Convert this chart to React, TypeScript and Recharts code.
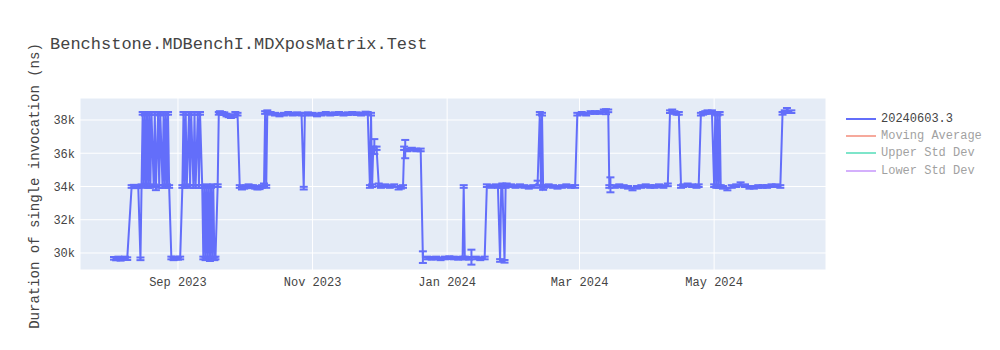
import { LineChart, Line, XAxis, YAxis, CartesianGrid, ErrorBar } from "recharts";

const chartTitle = "Benchstone.MDBenchI.MDXposMatrix.Test";
const yAxisTitle = "Duration of single invocation (ns)";
const seriesName = "20240603.3";

// run timestamps (UTC, "THH" = hour of the run)
const runDates = [
    "2023-08-03", "2023-08-04", "2023-08-05", "2023-08-06", "2023-08-07", "2023-08-08", "2023-08-09", "2023-08-11", "2023-08-12", "2023-08-13", "2023-08-14", "2023-08-15", "2023-08-15T12",
    "2023-08-16", "2023-08-16T12", "2023-08-17", "2023-08-17T12", "2023-08-18", "2023-08-18T12", "2023-08-19", "2023-08-19T12", "2023-08-20", "2023-08-21", "2023-08-21T12", "2023-08-22", "2023-08-23", "2023-08-23T12", "2023-08-24", "2023-08-25", "2023-08-25T12", "2023-08-26", "2023-08-26T12", "2023-08-27", "2023-08-27T12", "2023-08-28",
    "2023-08-29", "2023-08-30", "2023-08-31", "2023-09-01", "2023-09-02",
    "2023-09-03", "2023-09-03T12", "2023-09-04", "2023-09-04T12", "2023-09-05", "2023-09-06", "2023-09-06T12", "2023-09-07", "2023-09-08", "2023-09-08T12", "2023-09-09", "2023-09-10", "2023-09-10T12", "2023-09-11", "2023-09-12",
    "2023-09-12T12", "2023-09-13", "2023-09-13T12", "2023-09-14", "2023-09-14T12", "2023-09-15", "2023-09-15T12", "2023-09-16", "2023-09-16T12", "2023-09-17", "2023-09-17T12", "2023-09-18", "2023-09-19",
    "2023-09-19T12", "2023-09-20", "2023-09-21", "2023-09-22", "2023-09-23", "2023-09-24", "2023-09-25", "2023-09-26", "2023-09-27", "2023-09-28",
    "2023-09-29", "2023-09-30", "2023-10-01", "2023-10-02", "2023-10-03", "2023-10-04", "2023-10-05", "2023-10-06", "2023-10-07", "2023-10-08", "2023-10-09", "2023-10-10", "2023-10-10T12", "2023-10-11", "2023-10-11T12",
    "2023-10-13", "2023-10-15", "2023-10-17", "2023-10-19", "2023-10-21", "2023-10-23", "2023-10-25", "2023-10-27", "2023-10-28", "2023-10-28T12", "2023-10-30", "2023-11-01", "2023-11-03", "2023-11-05", "2023-11-07", "2023-11-09", "2023-11-11", "2023-11-13", "2023-11-15", "2023-11-17", "2023-11-19", "2023-11-21", "2023-11-23", "2023-11-25", "2023-11-26",
    "2023-11-27", "2023-11-27T12", "2023-11-28", "2023-11-28T12", "2023-11-29", "2023-11-30", "2023-12-01", "2023-12-02", "2023-12-04", "2023-12-06", "2023-12-08", "2023-12-10", "2023-12-11", "2023-12-12",
    "2023-12-12T12", "2023-12-13", "2023-12-14", "2023-12-16", "2023-12-18", "2023-12-20",
    "2023-12-21", "2023-12-23", "2023-12-25", "2023-12-27", "2023-12-29", "2023-12-31", "2024-01-02", "2024-01-04", "2024-01-06", "2024-01-08", "2024-01-08T12", "2024-01-09", "2024-01-11", "2024-01-12", "2024-01-14", "2024-01-16", "2024-01-18",
    "2024-01-19", "2024-01-21", "2024-01-23", "2024-01-24", "2024-01-25", "2024-01-25T12", "2024-01-26", "2024-01-27", "2024-01-27T12", "2024-01-28", "2024-01-30", "2024-02-01", "2024-02-03", "2024-02-05", "2024-02-07", "2024-02-09", "2024-02-11",
    "2024-02-12", "2024-02-12T12", "2024-02-13", "2024-02-13T12", "2024-02-14", "2024-02-16", "2024-02-18", "2024-02-20", "2024-02-22", "2024-02-24", "2024-02-26", "2024-02-28",
    "2024-02-29", "2024-03-02", "2024-03-04", "2024-03-06", "2024-03-08", "2024-03-10", "2024-03-12", "2024-03-13", "2024-03-14",
    "2024-03-14T12", "2024-03-15", "2024-03-17", "2024-03-19", "2024-03-21", "2024-03-23", "2024-03-25", "2024-03-27", "2024-03-29", "2024-03-31", "2024-04-02", "2024-04-04", "2024-04-06", "2024-04-08", "2024-04-10",
    "2024-04-11", "2024-04-12", "2024-04-13", "2024-04-14", "2024-04-15",
    "2024-04-16", "2024-04-17", "2024-04-19", "2024-04-21", "2024-04-23", "2024-04-24",
    "2024-04-25", "2024-04-26", "2024-04-27", "2024-04-28", "2024-04-29", "2024-04-30", "2024-05-01", "2024-05-01T12", "2024-05-02", "2024-05-02T12", "2024-05-03", "2024-05-03T12", "2024-05-04",
    "2024-05-05", "2024-05-07", "2024-05-09", "2024-05-11", "2024-05-13", "2024-05-15", "2024-05-17", "2024-05-19", "2024-05-21", "2024-05-23", "2024-05-25", "2024-05-27", "2024-05-29", "2024-05-31",
    "2024-06-01", "2024-06-02", "2024-06-03", "2024-06-05",
];

// mean duration per run (ns)
const durations = [
    29680, 29640, 29700, 29620, 29680, 29700, 29660, 34000, 34020, 33980, 34000, 29650, 34050,
    38400, 34000, 38350, 34100, 38400, 34000, 38380, 34000, 38400, 34050, 38400, 33900, 38400, 34000, 38350, 34000, 38400, 34000, 38400, 34050, 38400, 34000,
    29700, 29650, 29700, 29680, 29700,
    34000, 38400, 34000, 38400, 34050, 38400, 34000, 38400, 34000, 38400, 34000, 38400, 34000, 38400, 34000,
    29700, 34000, 29650, 34050, 29700, 34000, 29600, 34000, 29700, 34050, 29650, 29700, 34050,
    38400, 38450, 38400, 38380, 38300, 38250, 38200, 38250, 38400, 38350,
    34000, 33900, 33950, 34000, 34050, 33980, 34000, 33950, 33900, 33920, 34000, 34100, 38450, 34000, 38500,
    38400, 38350, 38300, 38350, 38400, 38350, 38380, 38350, 33900, 38350, 38380, 38350, 38300, 38350, 38400, 38350, 38380, 38400, 38350, 38380, 38400, 38380, 38350, 38420, 38400,
    34000, 38350, 34050, 36300, 36400, 36300, 34100, 34000, 34050, 34000, 34050, 33900, 33950, 34000,
    36300, 36250, 36200, 36250, 36200, 36200,
    29750, 29700, 29680, 29700, 29650, 29700, 29720, 29700, 29680, 29700, 34000, 29700, 29680, 29750, 29700, 29650, 29700,
    34050, 34000, 34050, 34000, 29550, 34000, 34100, 29500, 34000, 34100, 34050, 34000, 34050, 34000, 33950, 34000, 34200,
    38400, 34000, 38350, 33900, 34000, 34050, 34000, 33950, 34000, 34050, 34000, 34000,
    38350, 38400, 38350, 38450, 38450, 38450, 38550, 38500, 38550,
    34000, 34100, 34000, 34050, 34000, 33950, 33850, 33950, 34000, 34050, 34000, 34000, 34050, 34000, 34100,
    38500, 38550, 38450, 38400, 38400,
    34000, 34050, 34100, 34050, 34000, 34050,
    38350, 38400, 38450, 38500, 38450, 38500, 34050, 38400, 34000, 38350, 34000, 38400, 34000,
    33950, 33850, 34000, 34050, 34150, 34050, 33950, 33950, 34000, 34000, 34000, 34050, 34050, 34000,
    38400, 38500, 38600, 38500,
];

// standard deviation per run (ns)
const deviations = [
    80, 80, 80, 80, 80, 80, 80, 80, 80, 80, 80, 80, 80,
    80, 80, 80, 80, 80, 80, 80, 80, 80, 80, 80, 120, 80, 80, 80, 80, 80, 80, 80, 80, 80, 80,
    80, 80, 80, 80, 80,
    80, 80, 80, 80, 80, 80, 80, 80, 80, 80, 80, 80, 80, 80, 80,
    80, 80, 80, 80, 80, 80, 80, 80, 80, 80, 80, 80, 80,
    80, 80, 80, 80, 80, 80, 80, 80, 80, 80,
    80, 80, 80, 80, 80, 80, 80, 80, 80, 80, 80, 80, 80, 80, 80,
    80, 80, 80, 80, 80, 80, 80, 80, 80, 80, 80, 80, 80, 80, 80, 80, 80, 80, 80, 80, 80, 80, 80, 80, 80,
    80, 80, 80, 100, 450, 100, 80, 80, 80, 80, 80, 80, 80, 80,
    100, 550, 80, 80, 80, 80,
    350, 80, 80, 80, 80, 80, 80, 80, 80, 80, 80, 80, 80, 450, 80, 80, 80,
    80, 80, 80, 80, 80, 80, 80, 80, 80, 80, 80, 80, 80, 80, 80, 80, 150,
    80, 80, 80, 100, 80, 80, 80, 80, 80, 80, 80, 80,
    80, 80, 80, 80, 80, 80, 80, 150, 80,
    80, 450, 80, 80, 80, 80, 80, 80, 80, 80, 80, 80, 80, 80, 80,
    80, 80, 80, 80, 80,
    80, 80, 80, 80, 80, 80,
    80, 80, 80, 80, 80, 80, 80, 80, 80, 80, 80, 80, 80,
    80, 80, 80, 80, 100, 80, 80, 80, 80, 80, 80, 80, 80, 80,
    80, 80, 120, 80,
];

const yTicks = [30000, 32000, 34000, 36000, 38000];
const xTickDates = ["2023-09-01", "2023-11-01", "2024-01-01", "2024-03-01", "2024-05-01"];
const xTickLabels = ["Sep 2023", "Nov 2023", "Jan 2024", "Mar 2024", "May 2024"];

const legendItems = [
    { name: seriesName, color: "#636efa", hidden: false },
    { name: "Moving Average", color: "#EF553B", hidden: true },
    { name: "Upper Std Dev", color: "#00cc96", hidden: true },
    { name: "Lower Std Dev", color: "#ab63fa", hidden: true },
];

const toMs = (d: string) => Date.parse(d.length === 10 ? d + "T00:00:00Z" : d + ":00:00Z");
const DAY = 86400000;
const sep1 = toMs("2023-09-01");

const data = runDates.map((d, i) => ({ t: toMs(d), value: durations[i], err: deviations[i] }));
const xTicks = xTickDates.map(toMs);

const font = '"Courier New", "Liberation Mono", monospace';

export default function App() {
    return (
        <div style={{ position: "absolute", left: 0, top: 0, width: 1000, height: 350, background: "#fff", fontFamily: font }}>
            <div style={{ position: "absolute", left: 50, top: 36, fontSize: 17, lineHeight: "17px", color: "#444", whiteSpace: "nowrap" }}>
                {chartTitle}
            </div>
            <div
                style={{
                    position: "absolute",
                    left: 35,
                    top: 186,
                    transform: "translate(-50%, -50%) rotate(-90deg)",
                    fontSize: 14,
                    color: "#444",
                    whiteSpace: "nowrap",
                }}
            >
                {yAxisTitle}
            </div>
            <LineChart width={1000} height={350} data={data} margin={{ top: 98, right: 174, bottom: 50, left: 50 }}>
                <CartesianGrid fill="#E5ECF6" stroke="#fff" strokeWidth={1} />
                <XAxis
                    dataKey="t"
                    type="number"
                    domain={[sep1 - 44.4 * DAY, sep1 + 293.7 * DAY]}
                    allowDataOverflow
                    ticks={xTicks}
                    tickFormatter={(v: number) => xTickLabels[xTicks.indexOf(v)] ?? ""}
                    tick={{ fontSize: 12, fill: "#444", fontFamily: font }}
                    axisLine={false}
                    tickLine={false}
                    tickSize={5}
                    tickMargin={2}
                    height={30}
                />
                <YAxis
                    type="number"
                    domain={[28977, 39323]}
                    allowDataOverflow
                    ticks={yTicks}
                    tickFormatter={(v: number) => `${v / 1000}k`}
                    tick={{ fontSize: 12, fill: "#444", fontFamily: font }}
                    axisLine={false}
                    tickLine={false}
                    tickSize={3}
                    tickMargin={2}
                    width={30}
                />
                <Line
                    type="linear"
                    dataKey="value"
                    name={seriesName}
                    stroke="#636efa"
                    strokeWidth={2}
                    dot={false}
                    isAnimationActive={false}
                >
                    <ErrorBar dataKey="err" direction="y" width={4} stroke="#636efa" strokeWidth={2} isAnimationActive={false} />
                </Line>
            </LineChart>
            <div style={{ position: "absolute", left: 846, top: 110 }}>
                {legendItems.map((item) => (
                    <div
                        key={item.name}
                        style={{ display: "flex", alignItems: "center", height: 17.3, opacity: item.hidden ? 0.5 : 1 }}
                    >
                        <svg width={35} height={10}>
                            <line x1={0} y1={5} x2={30} y2={5} stroke={item.color} strokeWidth={2} />
                        </svg>
                        <span style={{ fontSize: 12, color: "#444", whiteSpace: "nowrap" }}>{item.name}</span>
                    </div>
                ))}
            </div>
        </div>
    );
}
